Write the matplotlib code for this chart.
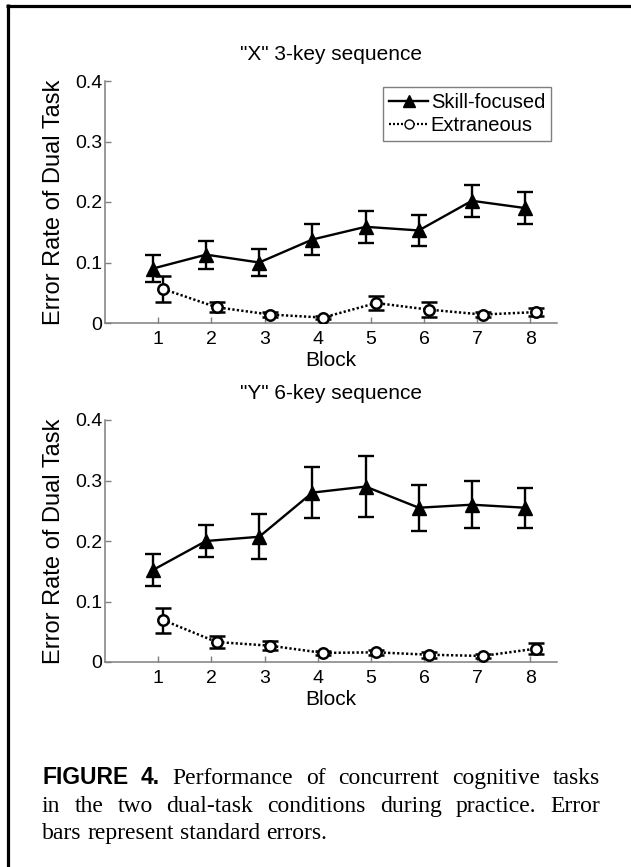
import matplotlib
matplotlib.use("Agg")
import matplotlib.pyplot as plt
from matplotlib.lines import Line2D
import numpy as np

# Data
blocks = [1, 2, 3, 4, 5, 6, 7, 8]
block_labels = ["1", "2", "3", "4", "5", "6", "7", "8"]
yticks = [0, 0.1, 0.2, 0.3, 0.4]
ytick_labels = ["0", "0.1", "0.2", "0.3", "0.4"]

# "X" 3-key sequence
skill_x = [0.090, 0.113, 0.100, 0.138, 0.159, 0.153, 0.202, 0.190]
skill_x_se = [0.023, 0.023, 0.023, 0.026, 0.026, 0.025, 0.026, 0.027]
extr_x = [0.056, 0.026, 0.014, 0.009, 0.033, 0.022, 0.014, 0.018]
extr_x_se = [0.021, 0.008, 0.004, 0.003, 0.012, 0.012, 0.004, 0.006]

# "Y" 6-key sequence
skill_y = [0.152, 0.200, 0.207, 0.280, 0.290, 0.255, 0.260, 0.255]
skill_y_se = [0.026, 0.027, 0.037, 0.042, 0.050, 0.038, 0.039, 0.033]
extr_y = [0.069, 0.033, 0.027, 0.015, 0.016, 0.012, 0.010, 0.022]
extr_y_se = [0.021, 0.010, 0.007, 0.004, 0.004, 0.005, 0.004, 0.009]

titles = ['"X" 3-key sequence', '"Y" 6-key sequence']
series_names = ["Skill-focused", "Extraneous"]

SANS = "Liberation Sans"
SERIF = "Liberation Serif"
GRAY = "#7f7f7f"
DOTS = (0, (0.9, 0.9))
W, H = 631, 867

fig = plt.figure(figsize=(W / 100, H / 100), dpi=100)
fig.patch.set_facecolor("white")


def draw_panel(ax, title, skill, skill_se, extr, extr_se, legend=False):
    x = np.array(blocks, dtype=float)
    ax.errorbar(x - 0.1, skill, yerr=skill_se, color="black", lw=1.7,
                marker="^", ms=9.5, mfc="black", mec="black",
                elinewidth=1.7, capsize=6, capthick=1.7, zorder=3)
    ax.errorbar(x + 0.1, extr, yerr=extr_se, color="black", lw=1.8, ls=DOTS,
                marker="o", ms=7.5, mfc="white", mec="black", mew=1.8,
                elinewidth=1.7, capsize=6, capthick=1.7, zorder=3)

    ax.set_xlim(0, 8.5)
    ax.set_ylim(0, 0.4)
    ax.set_xticks(blocks)
    ax.set_xticklabels(block_labels, fontsize=14, family=SANS)
    ax.set_yticks(yticks)
    ax.set_yticklabels(ytick_labels, fontsize=14, family=SANS)
    for s in ["top", "right"]:
        ax.spines[s].set_visible(False)
    for s in ["left", "bottom"]:
        ax.spines[s].set_color(GRAY)
        ax.spines[s].set_linewidth(1.1)
    ax.tick_params(axis="both", direction="in", length=4, width=1, color=GRAY)
    ax.tick_params(axis="x", pad=6)
    ax.tick_params(axis="y", pad=2)
    ax.set_title(title, fontsize=15, family=SANS, pad=15)
    ax.set_xlabel("Block", fontsize=15, family=SANS, labelpad=2)
    ax.set_ylabel("Error Rate of Dual Task", fontsize=17, family=SANS, labelpad=7)

    if legend:
        handles = [
            Line2D([], [], color="black", lw=1.7, marker="^", ms=8, mfc="black"),
            Line2D([], [], color="black", lw=1.6, ls=DOTS, marker="o", ms=6.5,
                   mfc="white", mec="black", mew=1.0),
        ]
        leg = ax.legend(handles, series_names, loc="upper right",
                        bbox_to_anchor=(0.987, 0.975),
                        borderaxespad=0, fancybox=False, framealpha=1,
                        edgecolor=GRAY, handlelength=1.9, handletextpad=0.15,
                        labelspacing=0.2, borderpad=0.3,
                        prop={"family": SANS, "size": 14.5})
        leg.get_frame().set_linewidth(1.0)


ax1 = fig.add_axes([105 / W, 1 - 323 / H, 452 / W, 242 / H])
ax2 = fig.add_axes([105 / W, 1 - 662 / H, 452 / W, 242 / H])
draw_panel(ax1, titles[0], skill_x, skill_x_se, extr_x, extr_x_se, legend=True)
draw_panel(ax2, titles[1], skill_y, skill_y_se, extr_y, extr_y_se)

# frame lines of the scanned page (left and top only)
fig.add_artist(Line2D([7.5 / W, 7.5 / W], [0, 1 - 4 / H], transform=fig.transFigure,
                      color="black", lw=2.3, solid_capstyle="butt"))
fig.add_artist(Line2D([6 / W, 1], [1 - 5.5 / H, 1 - 5.5 / H], transform=fig.transFigure,
                      color="black", lw=2.3, solid_capstyle="butt"))

# caption, justified word by word
bold = {"family": SANS, "weight": "bold", "size": 16.5}
body = {"family": SERIF, "size": 17}
cap_lines = [
    ([("FIGURE", bold), ("4.", bold), ("Performance", body), ("of", body),
      ("concurrent", body), ("cognitive", body), ("tasks", body)], 784, True),
    ([(w, body) for w in "in the two dual-task conditions during practice. Error".split()],
     812, True),
    ([(w, body) for w in "bars represent standard errors.".split()], 839, False),
]
left, right = 42, 600
renderer = fig.canvas.get_renderer()
for words, ybase, justify in cap_lines:
    texts = [fig.text(0, 1 - ybase / H, w, va="baseline", ha="left", **f) for w, f in words]
    widths = [t.get_window_extent(renderer).width for t in texts]
    if justify:
        gap = (right - left - sum(widths)) / (len(texts) - 1)
    else:
        gap = 6
    xpos = left
    for t, wd in zip(texts, widths):
        t.set_x(xpos / W)
        xpos += wd + gap

fig.savefig("out.png", dpi=100)
